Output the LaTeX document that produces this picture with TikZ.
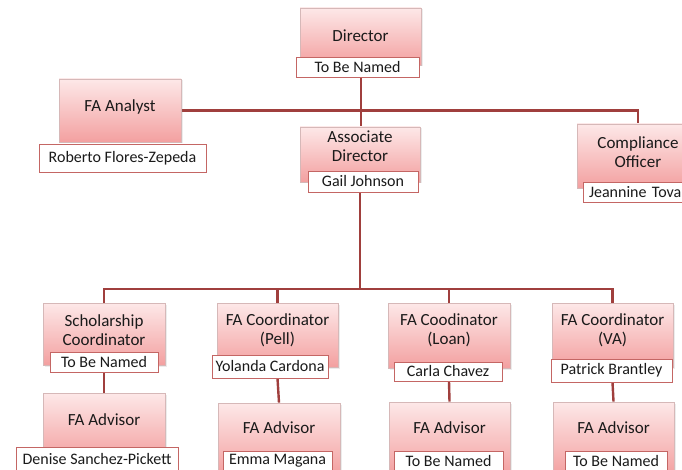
\documentclass[tikz,border=0pt]{standalone}
\usepackage{fontspec}
\setmainfont{Carlito}
\usetikzlibrary{shadows,backgrounds}
\definecolor{linered}{HTML}{A03F3D}
\definecolor{pinktop}{HTML}{FDE8E8}
\definecolor{pinkbot}{HTML}{F3A0A0}
\definecolor{pinkedge}{HTML}{D6B8B8}
\definecolor{labeledge}{HTML}{C46664}
\definecolor{txt}{HTML}{1A1A1A}
\tikzset{
  pinkbox/.style={draw=pinkedge, line width=0.8pt, top color=pinktop, bottom color=pinkbot,
    inner sep=0pt, drop shadow={opacity=0.15, shadow xshift=1.5pt, shadow yshift=-1.5pt}},
  ttl/.style={inner sep=0pt, align=center, text=txt, font=\fontsize{17}{18.5}\selectfont},
  namebox/.style={draw=labeledge, fill=white, line width=0.8pt, inner sep=0pt, text=txt,
    font=\fontsize{16}{18}\selectfont},
  conn/.style={draw=linered, line width=2.4pt}
}
\begin{document}
\begin{tikzpicture}[x=1pt,y=-1pt]
\useasboundingbox (0,0) rectangle (682,470);
\clip (0,0) rectangle (682,470);
% Director
\node[pinkbox, minimum width=121pt, minimum height=57pt] (dir) at (360.5,36.5) {};
\node[ttl] (dirT) at (360.5,36) {Director};
\node[namebox, minimum width=123pt, minimum height=20pt] (dirN) at (357.5,67) {To Be Named};
% FA Analyst
\node[pinkbox, minimum width=122pt, minimum height=63pt] (ana) at (120,110.5) {};
\node[ttl] (anaT) at (120,107) {FA Analyst};
\node[namebox, minimum width=167pt, minimum height=28pt] (anaN) at (122.5,158) {Roberto Flores-Zepeda};
% Associate Director
\node[pinkbox, minimum width=120pt, minimum height=55pt] (asc) at (360,154.5) {};
\node[ttl] (ascT) at (360,146) {Associate\\Director};
\node[namebox, minimum width=110pt, minimum height=21pt] (ascN) at (363,181.5) {Gail Johnson};
% Compliance Officer
\node[pinkbox, minimum width=122pt, minimum height=64pt] (cmp) at (638,156) {};
\node[ttl] (cmpT) at (638,152) {Compliance\\Officer};
\node[namebox, minimum width=110pt, minimum height=20pt, text width=98pt, align=left] (cmpN) at (638,192) {Jeannine Tova};
% Scholarship Coordinator
\node[pinkbox, minimum width=122pt, minimum height=62pt] (sch) at (104,334) {};
\node[ttl] (schT) at (104,330) {Scholarship\\Coordinator};
\node[namebox, minimum width=108pt, minimum height=20pt] (schN) at (104,362) {To Be Named};
% Pell
\node[pinkbox, minimum width=121pt, minimum height=64pt] (pel) at (277.5,335) {};
\node[ttl] (pelT) at (277.5,330.5) {FA Coordinator\\(Pell)};
\node[namebox, minimum width=116pt, minimum height=23pt] (pelN) at (270,366.5) {Yolanda Cardona};
% Loan
\node[pinkbox, minimum width=122pt, minimum height=65pt] (lon) at (449,335.5) {};
\node[ttl] (lonT) at (449,330.5) {FA Coodinator\\(Loan)};
\node[namebox, minimum width=108pt, minimum height=19pt] (lonN) at (448,371.5) {Carla Chavez};
% VA
\node[pinkbox, minimum width=121pt, minimum height=64pt] (vet) at (612.5,335) {};
\node[ttl] (vetT) at (612.5,330.5) {FA Coordinator\\(VA)};
\node[namebox, minimum width=121pt, minimum height=23pt] (vetN) at (611.5,370.5) {Patrick Brantley};
% Advisors
\node[pinkbox, minimum width=122pt, minimum height=67pt] (ad1) at (104,426.5) {};
\node[ttl] (ad1T) at (104,420) {FA Advisor};
\node[namebox, minimum width=162pt, minimum height=24pt] (ad1N) at (97,459.5) {Denise Sanchez-Pickett};
\node[pinkbox, minimum width=122pt, minimum height=72pt] (ad2) at (279,439) {};
\node[ttl] (ad2T) at (279,428) {FA Advisor};
\node[namebox, minimum width=109pt, minimum height=20pt] (ad2N) at (277.5,461) {Emma Magana};
\node[pinkbox, minimum width=121pt, minimum height=73pt] (ad3) at (449.5,438.5) {};
\node[ttl] (ad3T) at (449.5,428) {FA Advisor};
\node[namebox, minimum width=109pt, minimum height=20pt] (ad3N) at (448.5,461.5) {To Be Named};
\node[pinkbox, minimum width=121pt, minimum height=73pt] (ad4) at (613.5,438.5) {};
\node[ttl] (ad4T) at (613.5,428) {FA Advisor};
\node[namebox, minimum width=102pt, minimum height=20pt] (ad4N) at (616,461.5) {To Be Named};
% connectors
\coordinate (j1) at (361,110);
\coordinate (j2) at (360,289);
\begin{pgfonlayer}{background}
\draw[conn] (dirN.south -| j1) -- (asc.north -| j1);
\draw[conn] (ana.east) -- (ana.east -| cmp.north) -- (cmp.north);
\draw[conn] (ascN.south -| j2) -- (j2);
\draw[conn] (sch.north) -- (sch.north |- j2) -- (vet.north |- j2) -- (vet.north);
\draw[conn] (pel.north |- j2) -- (pel.north);
\draw[conn] (lon.north |- j2) -- (lon.north);
\draw[conn] (schN.south -| sch.north) -- (ad1.north);
\draw[conn] (pelN.south -| pel.north) -- (ad2.north);
\draw[conn] (lonN.south -| lon.north) -- (ad3.north);
\draw[conn] (vetN.south -| vet.north) -- (ad4.north);
\end{pgfonlayer}
\end{tikzpicture}
\end{document}
